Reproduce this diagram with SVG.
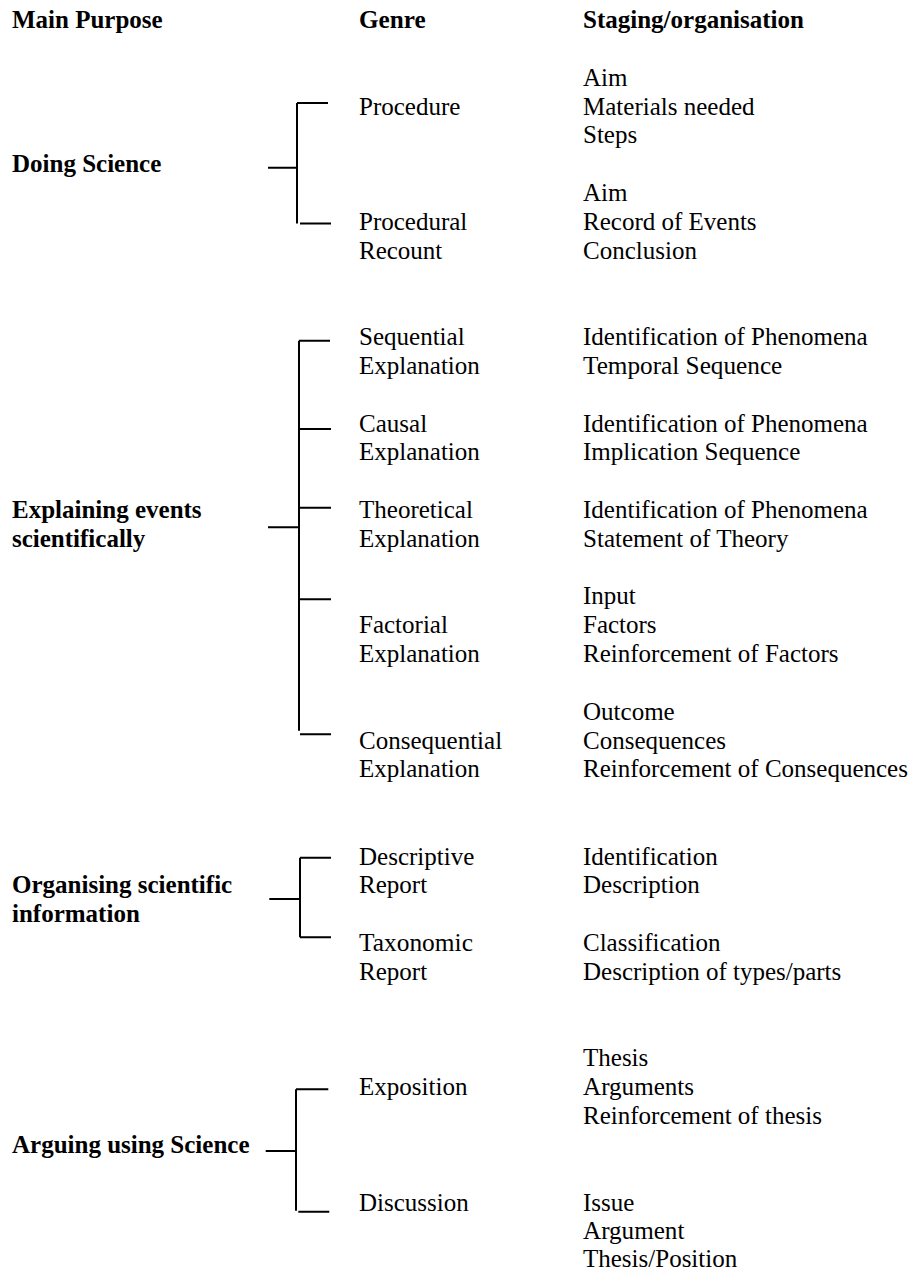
<svg xmlns="http://www.w3.org/2000/svg" width="911" height="1272" viewBox="0 0 911 1272">
<style>
text{font-family:'Liberation Serif','Times New Roman',Tinos,'Noto Serif','DejaVu Serif','FreeSerif','Nimbus Roman',serif;font-size:25px;fill:#000}
.b{font-weight:bold}
.ln{stroke:#000;stroke-width:2;fill:none}
</style>
<rect width="911" height="1272" fill="#fff"/>
<g id="headers">
<text class="b" x="12" y="28" textLength="150.7" lengthAdjust="spacingAndGlyphs">Main Purpose</text>
<text class="b" x="359" y="28" textLength="66.7" lengthAdjust="spacingAndGlyphs">Genre</text>
<text class="b" x="583" y="28" textLength="220.9" lengthAdjust="spacingAndGlyphs">Staging/organisation</text>
</g>
<g id="purpose-doing"><text class="b" x="12" y="172" textLength="149.3" lengthAdjust="spacingAndGlyphs">Doing Science</text></g>
<g id="purpose-explaining"><text class="b" x="12" y="518" textLength="189.6" lengthAdjust="spacingAndGlyphs">Explaining events</text><text class="b" x="12" y="547" textLength="133.3" lengthAdjust="spacingAndGlyphs">scientifically</text></g>
<g id="purpose-organising"><text class="b" x="12" y="893" textLength="220.2" lengthAdjust="spacingAndGlyphs">Organising scientific</text><text class="b" x="12" y="922" textLength="127.8" lengthAdjust="spacingAndGlyphs">information</text></g>
<g id="purpose-arguing"><text class="b" x="12" y="1153" textLength="237.5" lengthAdjust="spacingAndGlyphs">Arguing using Science</text></g>

<g id="genre-procedure"><text x="359" y="114.5" textLength="101.4" lengthAdjust="spacingAndGlyphs">Procedure</text></g>
<g id="genre-procedural-recount"><text x="359" y="229.7" textLength="108.3" lengthAdjust="spacingAndGlyphs">Procedural</text><text x="359" y="258.6" textLength="83.3" lengthAdjust="spacingAndGlyphs">Recount</text></g>
<g id="genre-sequential"><text x="359" y="345" textLength="105.6" lengthAdjust="spacingAndGlyphs">Sequential</text><text x="359" y="373.8" textLength="120.8" lengthAdjust="spacingAndGlyphs">Explanation</text></g>
<g id="genre-causal"><text x="359" y="431.5" textLength="68.1" lengthAdjust="spacingAndGlyphs">Causal</text><text x="359" y="460.3" textLength="120.8" lengthAdjust="spacingAndGlyphs">Explanation</text></g>
<g id="genre-theoretical"><text x="359" y="518" textLength="113.9" lengthAdjust="spacingAndGlyphs">Theoretical</text><text x="359" y="546.8" textLength="120.8" lengthAdjust="spacingAndGlyphs">Explanation</text></g>
<g id="genre-factorial"><text x="359" y="633.2" textLength="88.9" lengthAdjust="spacingAndGlyphs">Factorial</text><text x="359" y="662" textLength="120.8" lengthAdjust="spacingAndGlyphs">Explanation</text></g>
<g id="genre-consequential"><text x="359" y="748.5" textLength="143.1" lengthAdjust="spacingAndGlyphs">Consequential</text><text x="359" y="777.3" textLength="120.8" lengthAdjust="spacingAndGlyphs">Explanation</text></g>
<g id="genre-descriptive"><text x="359" y="864.5" textLength="115.3" lengthAdjust="spacingAndGlyphs">Descriptive</text><text x="359" y="893.3" textLength="68.1" lengthAdjust="spacingAndGlyphs">Report</text></g>
<g id="genre-taxonomic"><text x="359" y="950.8" textLength="113.9" lengthAdjust="spacingAndGlyphs">Taxonomic</text><text x="359" y="979.6" textLength="68.1" lengthAdjust="spacingAndGlyphs">Report</text></g>
<g id="genre-exposition"><text x="359" y="1095" textLength="108.4" lengthAdjust="spacingAndGlyphs">Exposition</text></g>
<g id="genre-discussion"><text x="359" y="1210.5" textLength="109.7" lengthAdjust="spacingAndGlyphs">Discussion</text></g>

<g id="stages-procedure"><text x="583" y="85.6" textLength="44.5" lengthAdjust="spacingAndGlyphs">Aim</text><text x="583" y="114.5" textLength="171.5" lengthAdjust="spacingAndGlyphs">Materials needed</text><text x="583" y="143.3" textLength="54.2" lengthAdjust="spacingAndGlyphs">Steps</text></g>
<g id="stages-procedural-recount"><text x="583" y="200.9" textLength="44.5" lengthAdjust="spacingAndGlyphs">Aim</text><text x="583" y="229.7" textLength="173.6" lengthAdjust="spacingAndGlyphs">Record of Events</text><text x="583" y="258.6" textLength="113.9" lengthAdjust="spacingAndGlyphs">Conclusion</text></g>
<g id="stages-sequential"><text x="583" y="345" textLength="284.7" lengthAdjust="spacingAndGlyphs">Identification of Phenomena</text><text x="583" y="373.8" textLength="199.3" lengthAdjust="spacingAndGlyphs">Temporal Sequence</text></g>
<g id="stages-causal"><text x="583" y="431.5" textLength="284.7" lengthAdjust="spacingAndGlyphs">Identification of Phenomena</text><text x="583" y="460.3" textLength="217.3" lengthAdjust="spacingAndGlyphs">Implication Sequence</text></g>
<g id="stages-theoretical"><text x="583" y="518" textLength="284.7" lengthAdjust="spacingAndGlyphs">Identification of Phenomena</text><text x="583" y="546.8" textLength="205.5" lengthAdjust="spacingAndGlyphs">Statement of Theory</text></g>
<g id="stages-factorial"><text x="583" y="604.4" textLength="52.8" lengthAdjust="spacingAndGlyphs">Input</text><text x="583" y="633.2" textLength="73.6" lengthAdjust="spacingAndGlyphs">Factors</text><text x="583" y="662" textLength="255.5" lengthAdjust="spacingAndGlyphs">Reinforcement of Factors</text></g>
<g id="stages-consequential"><text x="583" y="719.7" textLength="91.7" lengthAdjust="spacingAndGlyphs">Outcome</text><text x="583" y="748.5" textLength="143" lengthAdjust="spacingAndGlyphs">Consequences</text><text x="583" y="777.3" textLength="324.9" lengthAdjust="spacingAndGlyphs">Reinforcement of Consequences</text></g>
<g id="stages-descriptive"><text x="583" y="864.5" textLength="134.7" lengthAdjust="spacingAndGlyphs">Identification</text><text x="583" y="893.3" textLength="116.7" lengthAdjust="spacingAndGlyphs">Description</text></g>
<g id="stages-taxonomic"><text x="583" y="950.8" textLength="137.5" lengthAdjust="spacingAndGlyphs">Classification</text><text x="583" y="979.6" textLength="258.3" lengthAdjust="spacingAndGlyphs">Description of types/parts</text></g>
<g id="stages-exposition"><text x="583" y="1066" textLength="65.3" lengthAdjust="spacingAndGlyphs">Thesis</text><text x="583" y="1095" textLength="111.1" lengthAdjust="spacingAndGlyphs">Arguments</text><text x="583" y="1123.6" textLength="238.9" lengthAdjust="spacingAndGlyphs">Reinforcement of thesis</text></g>
<g id="stages-discussion"><text x="583" y="1210.5" textLength="51.4" lengthAdjust="spacingAndGlyphs">Issue</text><text x="583" y="1239.2" textLength="101.4" lengthAdjust="spacingAndGlyphs">Argument</text><text x="583" y="1267.2" textLength="154.2" lengthAdjust="spacingAndGlyphs">Thesis/Position</text></g>

<g id="connectors">
<path class="ln" d="M297 103V223.5M297 103H328M300 223.5H331M268 167.7H297"/>
<path class="ln" d="M299 340.7V730.7M299 340.7H330M299 429H331M299 507.7H331M299 599.3H331M300 734.3H331M268 527.3H299"/>
<path class="ln" d="M300 857.7V937.3M300 857.7H331M300 937.3H331M269.3 899H300"/>
<path class="ln" d="M296 1089.3V1210.7M296 1089.3H328.3M298.3 1211.7H329.3M265.7 1151H296"/>
</g>
</svg>
